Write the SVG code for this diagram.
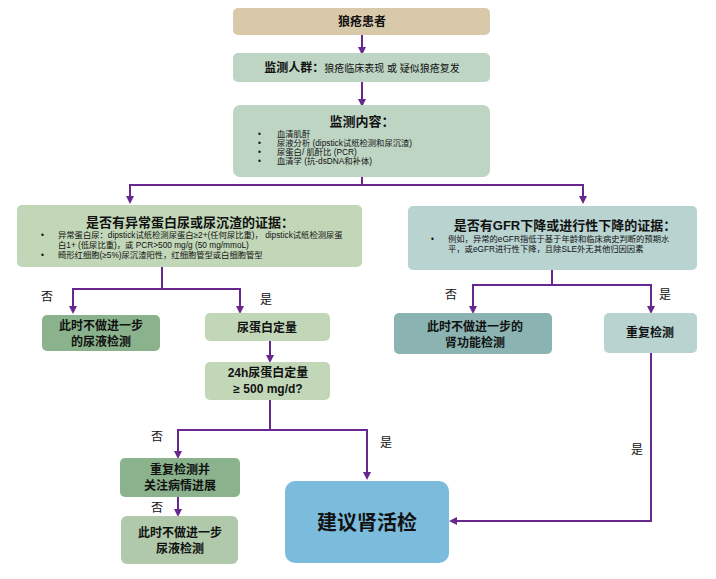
<svg xmlns="http://www.w3.org/2000/svg" width="716" height="579" viewBox="0 0 716 579">
<defs>
<marker id="ah" markerWidth="8" markerHeight="8" refX="4" refY="4" orient="auto" markerUnits="userSpaceOnUse">
<path d="M0,0 L8,4 L0,8 Z" fill="#66288f"/>
</marker>
<style>
text{font-family:"Liberation Sans","Noto Sans CJK SC",sans-serif;fill:#111}
.b{font-weight:bold}
.h{font-size:13px;font-weight:bold}
.n{font-size:12px;font-weight:bold}
.s{font-size:8.3px}
.m{font-size:10px}
.lbl{font-size:12px}
.c{fill:none;stroke:#66288f;stroke-width:2}
</style>
</defs>
<rect width="716" height="579" fill="#fff"/>
<g id="connectors">
<path class="c" d="M362,35 V51" marker-end="url(#ah)"/>
<path class="c" d="M362,82 V103" marker-end="url(#ah)"/>
<path class="c" d="M362,177 V185 H130 V202"/>
<path class="c" d="M130,185 V200" marker-end="url(#ah)"/>
<path class="c" d="M362,185 H583 V200" marker-end="url(#ah)"/>
<path class="c" d="M162,267 V289 H73 V310" marker-end="url(#ah)"/>
<path class="c" d="M162,289 H240 V310" marker-end="url(#ah)"/>
<path class="c" d="M270,341 V359" marker-end="url(#ah)"/>
<path class="c" d="M270,400 V430 H178 V455" marker-end="url(#ah)"/>
<path class="c" d="M270,430 H367 V476" marker-end="url(#ah)"/>
<path class="c" d="M178,497 V513" marker-end="url(#ah)"/>
<path class="c" d="M552,270 V285 H473 V310" marker-end="url(#ah)"/>
<path class="c" d="M552,285 H651 V310" marker-end="url(#ah)"/>
<path class="c" d="M651,352 V521 H453" marker-end="url(#ah)"/>
</g>
<g id="labels">
<text class="lbl" x="47" y="301" text-anchor="middle">否</text>
<text class="lbl" x="266" y="304" text-anchor="middle">是</text>
<text class="lbl" x="451" y="299" text-anchor="middle">否</text>
<text class="lbl" x="665" y="299" text-anchor="middle">是</text>
<text class="lbl" x="157" y="441" text-anchor="middle">否</text>
<text class="lbl" x="386" y="447" text-anchor="middle">是</text>
<text class="lbl" x="157" y="512" text-anchor="middle">否</text>
<text class="lbl" x="637" y="454" text-anchor="middle">是</text>
</g>
<g id="n1">
<rect x="233" y="8" width="257" height="27" rx="5" fill="#d9c9ab"/>
<text class="n" x="362" y="26" text-anchor="middle">狼疮患者</text>
</g>
<g id="n2">
<rect x="233" y="53" width="257" height="29" rx="5" fill="#bed5c4"/>
<text x="362" y="72" text-anchor="middle"><tspan class="n">监测人群：</tspan><tspan class="m">狼疮临床表现 或 疑似狼疮复发</tspan></text>
</g>
<g id="n3">
<rect x="233" y="105" width="257" height="72" rx="7" fill="#bed5c4"/>
<text class="h" x="362" y="126" text-anchor="middle">监测内容：</text>
<text class="s" x="258" y="137">•</text><text class="s" x="277" y="137">血清肌酐</text>
<text class="s" x="258" y="146">•</text><text class="s" x="277" y="146">尿液分析 (dipstick试纸检测和尿沉渣)</text>
<text class="s" x="258" y="155">•</text><text class="s" x="277" y="155">尿蛋白/ 肌酐比 (PCR)</text>
<text class="s" x="258" y="164">•</text><text class="s" x="277" y="164">血清学 (抗-dsDNA和补体)</text>
</g>
<g id="n4">
<rect x="17" y="205" width="345" height="62" rx="5" fill="#c2d7b8"/>
<text class="h" x="190" y="227" text-anchor="middle">是否有异常蛋白尿或尿沉渣的证据：</text>
<text class="s" x="41" y="238">•</text><text class="s" x="58" y="238">异常蛋白尿：dipstick试纸检测尿蛋白≥2+(任何尿比重)， dipstick试纸检测尿蛋</text>
<text class="s" x="58" y="248">白1+ (低尿比重)，或 PCR&gt;500 mg/g (50 mg/mmoL)</text>
<text class="s" x="41" y="258">•</text><text class="s" x="58" y="258">畸形红细胞(≥5%)尿沉渣阳性，红细胞管型或白细胞管型</text>
</g>
<g id="n5">
<rect x="408" y="206" width="289" height="64" rx="5" fill="#b8d3d0"/>
<text class="h" x="565" y="230" text-anchor="middle">是否有GFR下降或进行性下降的证据：</text>
<text class="s" x="431" y="242">•</text><text class="s" x="448" y="242">例如，异常的eGFR指低于基于年龄和临床病史判断的预期水</text>
<text class="s" x="448" y="252">平，或eGFR进行性下降，且除SLE外无其他归因因素</text>
</g>
<g id="n6">
<rect x="42" y="315" width="118" height="36" rx="5" fill="#8ab38d"/>
<text class="n" x="101" y="330" text-anchor="middle">此时不做进一步</text>
<text class="n" x="101" y="346" text-anchor="middle">的尿液检测</text>
</g>
<g id="n7">
<rect x="205" y="313" width="125" height="28" rx="5" fill="#c2d7b8"/>
<text class="n" x="267" y="332" text-anchor="middle">尿蛋白定量</text>
</g>
<g id="n8">
<rect x="205" y="362" width="125" height="38" rx="5" fill="#c2d7b8"/>
<text class="n" x="268" y="377" text-anchor="middle">24h尿蛋白定量</text>
<text class="n" x="268" y="393" text-anchor="middle">≥ 500 mg/d?</text>
</g>
<g id="n9">
<rect x="394" y="313" width="158" height="41" rx="5" fill="#8ab3b2"/>
<text class="n" x="475" y="331" text-anchor="middle">此时不做进一步的</text>
<text class="n" x="475" y="347" text-anchor="middle">肾功能检测</text>
</g>
<g id="n10">
<rect x="604" y="313" width="93" height="40" rx="5" fill="#b8d3d0"/>
<text class="n" x="650" y="337" text-anchor="middle">重复检测</text>
</g>
<g id="n11">
<rect x="120" y="458" width="120" height="39" rx="5" fill="#8ab38d"/>
<text class="n" x="180" y="474" text-anchor="middle">重复检测并</text>
<text class="n" x="180" y="490" text-anchor="middle">关注病情进展</text>
</g>
<g id="n12">
<rect x="121" y="516" width="117" height="48" rx="6" fill="#b0c9ab"/>
<text class="n" x="180" y="537" text-anchor="middle">此时不做进一步</text>
<text class="n" x="180" y="553" text-anchor="middle">尿液检测</text>
</g>
<g id="n13">
<rect x="285" y="481" width="164" height="82" rx="10" fill="#7bbcdc"/>
<text x="367" y="530" text-anchor="middle" class="b" style="font-size:20px">建议肾活检</text>
</g>
</svg>
